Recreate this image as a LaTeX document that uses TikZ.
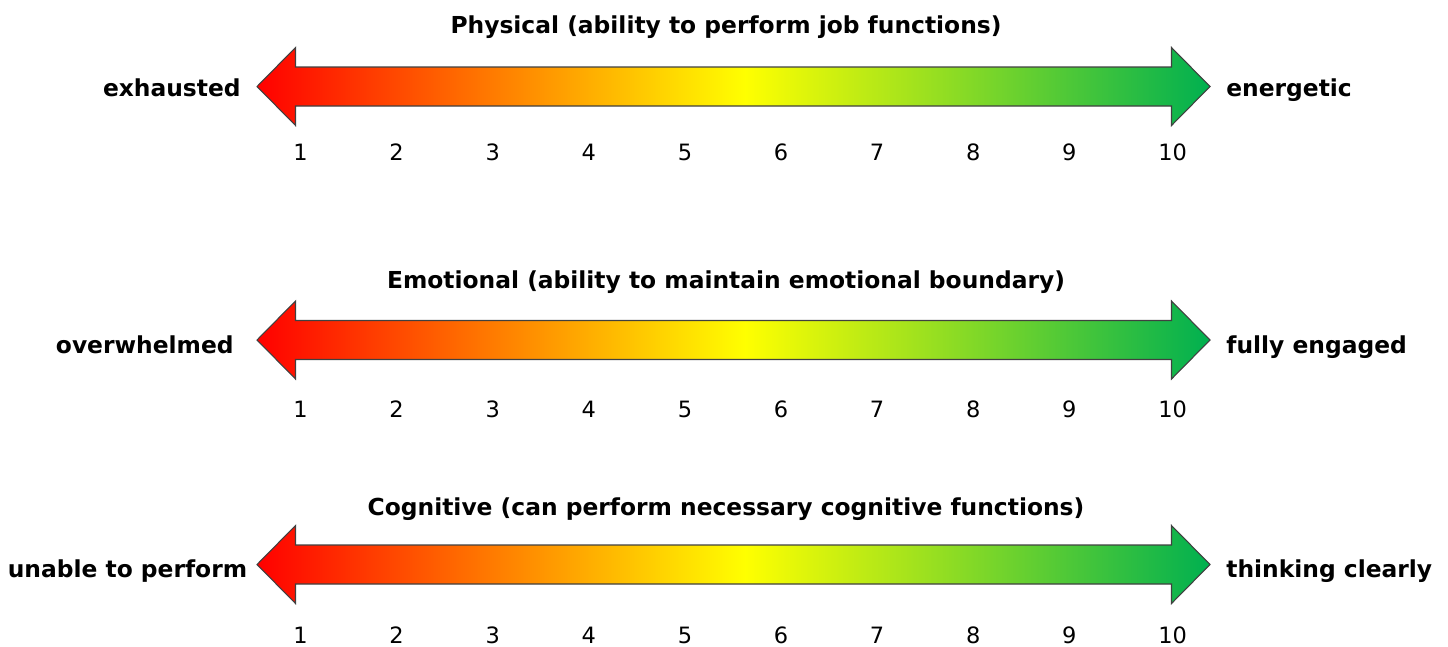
\documentclass[tikz,border=0pt]{standalone}
\usepackage{fontspec}
\setmainfont{DejaVu Sans}
\usepackage{tikz}
\definecolor{ScaleRed}{RGB}{255,0,0}
\definecolor{ScaleYellow}{RGB}{255,255,0}
\definecolor{ScaleGreen}{RGB}{0,176,80}
\definecolor{EdgeColor}{RGB}{64,64,64}
\pgfdeclarehorizontalshading{ScaleShading}{100bp}{color(0bp)=(ScaleRed); color(25bp)=(ScaleRed); color(50.6bp)=(ScaleYellow); color(75bp)=(ScaleGreen); color(100bp)=(ScaleGreen)}
\newcommand{\boldsize}{\fontsize{13.3}{16}\selectfont\bfseries}
\tikzset{
  scale arrow/.style={shading=ScaleShading, draw=EdgeColor, line width=0.6pt, line join=miter},
  scale title/.style={font=\boldsize, anchor=base, inner sep=0pt},
  left end/.style={font=\boldsize, anchor=base east, inner sep=0pt},
  right end/.style={font=\boldsize, anchor=base west, inner sep=0pt},
  scale number/.style={font=\fontsize{12.8}{15}\selectfont, anchor=base west, inner sep=0pt}
}

\begin{document}
\begin{tikzpicture}
                \useasboundingbox (0,0) rectangle (28.96,-12.92);

                % Physical
                \node[scale title] (phystitle) at (14.52,-0.66) {Physical (ability to perform job functions)};
                \shade[scale arrow] (5.14,-1.73) -- ++(0.77,0.78) -- ++(0,-0.39) -- ++(17.52,0) -- ++(0,0.39)
                    -- ++(0.77,-0.78) -- ++(-0.77,-0.78) -- ++(0,0.39) -- ++(-17.52,0) -- ++(0,-0.39) -- cycle;
                \node[left end] (physleft) at (4.82,-1.93) {exhausted};
                \node[right end] (physright) at (24.52,-1.93) {energetic};
                \foreach \n [count=\k from 0] in {1,...,10}
                    \node[scale number] (phys\n) at ({5.86+1.922*\k},-3.20) {\n};

                % Emotional
                \node[scale title] (emotitle) at (14.52,-5.76) {Emotional (ability to maintain emotional boundary)};
                \shade[scale arrow] (5.14,-6.80) -- ++(0.77,0.78) -- ++(0,-0.39) -- ++(17.52,0) -- ++(0,0.39)
                    -- ++(0.77,-0.78) -- ++(-0.77,-0.78) -- ++(0,0.39) -- ++(-17.52,0) -- ++(0,-0.39) -- cycle;
                \node[left end] (emoleft) at (4.68,-7.06) {overwhelmed};
                \node[right end] (emoright) at (24.52,-7.06) {fully engaged};
                \foreach \n [count=\k from 0] in {1,...,10}
                    \node[scale number] (emo\n) at ({5.86+1.922*\k},-8.34) {\n};

                % Cognitive
                \node[scale title] (cogtitle) at (14.52,-10.30) {Cognitive (can perform necessary cognitive functions)};
                \shade[scale arrow] (5.14,-11.29) -- ++(0.77,0.78) -- ++(0,-0.39) -- ++(17.52,0) -- ++(0,0.39)
                    -- ++(0.77,-0.78) -- ++(-0.77,-0.78) -- ++(0,0.39) -- ++(-17.52,0) -- ++(0,-0.39) -- cycle;
                \node[left end] (cogleft) at (4.95,-11.54) {unable to perform};
                \node[right end] (cogright) at (24.52,-11.54) {thinking clearly};
                \foreach \n [count=\k from 0] in {1,...,10}
                    \node[scale number] (cog\n) at ({5.86+1.922*\k},-12.86) {\n};
\end{tikzpicture}
\end{document}
